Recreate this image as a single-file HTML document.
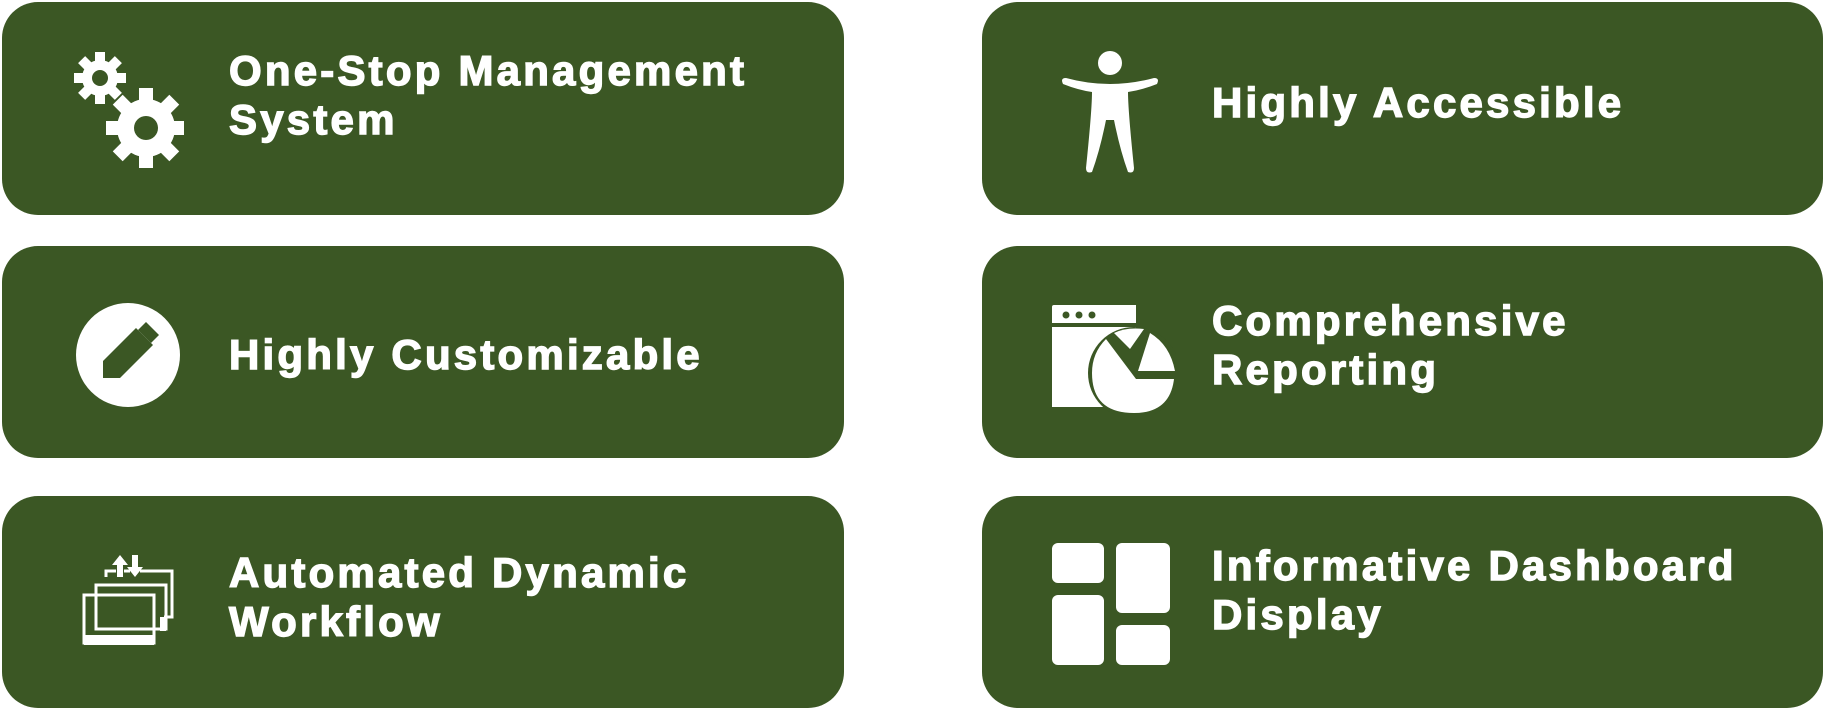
<!DOCTYPE html>
<html><head><meta charset="utf-8"><style>
body{margin:0;width:1826px;height:713px;background:#fff;position:relative;overflow:hidden;font-family:"Liberation Sans",Arial,sans-serif}
.b{position:absolute;background:#3b5724;border-radius:36px}
.t{position:absolute;color:#fff;font-weight:bold;font-size:42px;line-height:49px;letter-spacing:3.2px;white-space:nowrap;-webkit-text-stroke:1.4px #fff}
svg{position:absolute}
</style></head><body>
<div class="b" style="left:2px;top:2px;width:842px;height:213px"></div>
<div class="b" style="left:2px;top:246px;width:842px;height:212px"></div>
<div class="b" style="left:2px;top:496px;width:842px;height:212px"></div>
<div class="b" style="left:982px;top:2px;width:841px;height:213px"></div>
<div class="b" style="left:982px;top:246px;width:841px;height:212px"></div>
<div class="b" style="left:982px;top:496px;width:841px;height:212px"></div>

<div class="t" style="left:229px;top:46px">One-Stop Management<br>System</div>
<div class="t" style="left:229px;top:330px">Highly Customizable</div>
<div class="t" style="left:229px;top:548px">Automated Dynamic<br>Workflow</div>
<div class="t" style="left:1212px;top:78px">Highly Accessible</div>
<div class="t" style="left:1212px;top:296px">Comprehensive<br>Reporting</div>
<div class="t" style="left:1212px;top:541px">Informative Dashboard<br>Display</div>

<!-- gears -->
<svg style="left:66px;top:48px" width="118" height="122" viewBox="0 0 118 122">
<g fill="#fff">
<circle cx="34" cy="30" r="18"/>
<g transform="translate(34,30)"><rect x="-5" y="-26" width="10" height="52"/><rect x="-26" y="-5" width="52" height="10"/><rect x="-5" y="-26" width="10" height="52" transform="rotate(45)"/><rect x="-5" y="-26" width="10" height="52" transform="rotate(-45)"/></g>
<circle cx="80" cy="80" r="29"/>
<g transform="translate(80,80)"><rect x="-7" y="-40" width="14" height="80"/><rect x="-40" y="-7" width="80" height="14"/><rect x="-7" y="-40" width="14" height="80" transform="rotate(45)"/><rect x="-7" y="-40" width="14" height="80" transform="rotate(-45)"/></g>
</g>
<circle cx="34" cy="30" r="8" fill="#3b5724"/>
<circle cx="80" cy="80" r="12" fill="#3b5724"/>
</svg>

<!-- pencil circle -->
<svg style="left:76px;top:303px" width="104" height="104" viewBox="0 0 104 104">
<ellipse cx="52" cy="52" rx="52" ry="52" fill="#fff"/>
<path d="M27 58 L60 25 L77 42 L44 75 L27 75 Z" fill="#3b5724"/>
<path d="M62 27 L70 19 L83 32 L75 40 Z" fill="#3b5724"/>
</svg>

<!-- workflow -->
<svg style="left:80px;top:555px" width="100" height="92" viewBox="0 0 100 92">
<g fill="none" stroke="#fff" stroke-width="3">
<path d="M26 22 V16 H36 M44 16 H50 M60 16 H92 V62 H84"/>
<rect x="16" y="30" width="70" height="44"/>
<rect x="4" y="40" width="70" height="48"/>
</g>
<rect x="4" y="80" width="70" height="10" fill="#fff"/>
<rect x="80" y="62" width="6" height="14" fill="#fff"/>
<path d="M40 0 L48 10 H43 V22 H37 V10 H32 Z" fill="#fff"/>
<path d="M55 22 L63 12 H58 V0 H52 V12 H47 Z" fill="#fff"/>
</svg>

<!-- person -->
<svg style="left:1058px;top:50px" width="104" height="128" viewBox="0 0 104 128">
<circle cx="52" cy="13" r="12" fill="#fff"/>
<path d="M5 34 Q2 28 8 28 Q30 34 52 34 Q74 34 96 28 Q102 28 99 34 Q84 40 70 42 Q70 60 76 118 Q76 124 70 122 Q62 100 56 70 H48 Q42 100 34 122 Q28 124 28 118 Q34 60 34 42 Q20 40 5 34 Z" fill="#fff"/>
</svg>

<!-- report -->
<svg style="left:1050px;top:303px" width="126" height="112" viewBox="0 0 126 112">
<path d="M2 4 Q2 2 4 2 H86 V30 Q64 40 58 72 V88 Q60 96 64 104 H2 Z" fill="#fff"/>
<rect x="2" y="20" width="84" height="4" fill="#3b5724"/>
<circle cx="16" cy="12" r="3.5" fill="#3b5724"/><circle cx="29" cy="12" r="3.5" fill="#3b5724"/><circle cx="42" cy="12" r="3.5" fill="#3b5724"/>
<circle cx="84" cy="70" r="46" fill="#3b5724"/>
<path d="M56 36 Q42 50 42 70 Q42 110 84 110 Q120 110 124 76 H86 Z" fill="#fff"/>
<path d="M64 30 Q76 24 94 26 L80 46 Z" fill="#fff"/>
<path d="M100 30 Q120 42 125 68 H88 Z" fill="#fff"/>
</svg>

<!-- dashboard -->
<svg style="left:1052px;top:543px" width="120" height="122" viewBox="0 0 120 122">
<g fill="#fff">
<rect x="0" y="0" width="52" height="40" rx="6"/>
<rect x="64" y="0" width="54" height="70" rx="6"/>
<rect x="0" y="52" width="52" height="70" rx="6"/>
<rect x="64" y="82" width="54" height="40" rx="6"/>
</g>
</svg>
</body></html>
